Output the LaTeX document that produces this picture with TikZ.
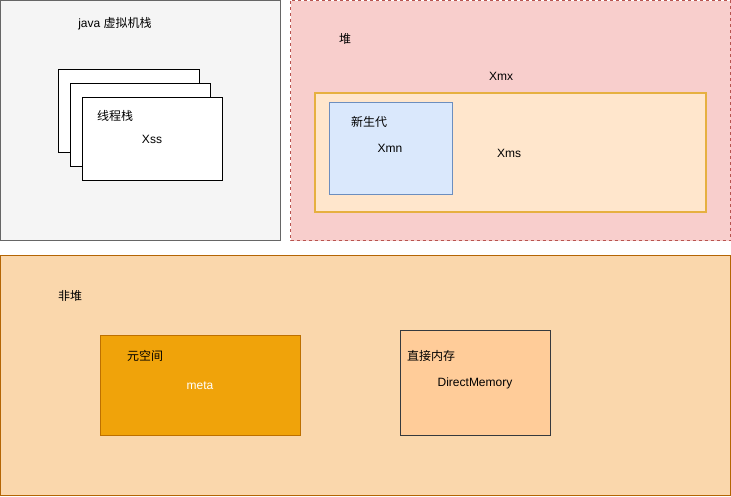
\documentclass[tikz,border=0pt]{standalone}
\usepackage{fontspec}
\setmainfont{Liberation Sans}
\newfontfamily\cjk{Noto Sans CJK SC}
\definecolor{jvmfill}{HTML}{F5F5F5}
\definecolor{jvmline}{HTML}{666666}
\definecolor{heapfill}{HTML}{F8CECC}
\definecolor{heapline}{HTML}{B85450}
\definecolor{xmsfill}{HTML}{FFE6CC}
\definecolor{xmsline}{HTML}{E6B040}
\definecolor{youngfill}{HTML}{DAE8FC}
\definecolor{youngline}{HTML}{6C8EBF}
\definecolor{nhfill}{HTML}{FAD7AC}
\definecolor{nhline}{HTML}{B46504}
\definecolor{metafill}{HTML}{F0A30A}
\definecolor{metaline}{HTML}{BD7000}
\definecolor{dmfill}{HTML}{FFCC99}
\definecolor{dmline}{HTML}{36393D}
\tikzset{
  box/.style={draw, line width=1pt},
  lbl/.style={font=\fontsize{12}{14}\selectfont, inner sep=0pt, anchor=center},
}
\begin{document}
\begin{tikzpicture}[x=1pt,y=-1pt]
\useasboundingbox (0,0) rectangle (731,496);
% JVM stack
\draw[box, fill=jvmfill, draw=jvmline] (0.5,0.5) rectangle (280.5,240.5);
\node[lbl] (jvm) at (115,24) {java {\cjk 虚拟机栈}};
\draw[box, fill=white, draw=black] (58.5,69.5) rectangle (199.5,152.5);
\draw[box, fill=white, draw=black] (70.5,83.5) rectangle (210.5,166.5);
\draw[box, fill=white, draw=black] (82.5,97.5) rectangle (222.5,180.5);
\node[lbl] (ts) at (115,116) {\cjk 线程栈};
\node[lbl] (xss) at (152,139) {Xss};
% Heap
\draw[box, fill=heapfill, draw=heapline, dashed, dash pattern=on 3pt off 3pt] (290.5,0.5) rectangle (730.5,240.5);
\node[lbl] (heap) at (345,39) {\cjk 堆};
\node[lbl] (xmx) at (501,76) {Xmx};
\draw[box, line width=2pt, fill=xmsfill, draw=xmsline] (315,93) rectangle (706,212);
\node[lbl] (xms) at (509,153) {Xms};
\draw[box, fill=youngfill, draw=youngline] (329.5,102.5) rectangle (452,194);
\node[lbl] (young) at (369,122) {\cjk 新生代};
\node[lbl] (xmn) at (390,148) {Xmn};
% Non-heap
\draw[box, fill=nhfill, draw=nhline] (0.5,255.5) rectangle (730.5,495.5);
\node[lbl] (nh) at (70,296) {\cjk 非堆};
\draw[box, fill=metafill, draw=metaline] (100.5,335.5) rectangle (300.5,435.5);
\node[lbl] (meta1) at (145,356) {\cjk 元空间};
\node[lbl, text=white] (meta) at (200,386) {meta};
\draw[box, fill=dmfill, draw=dmline] (400.5,330.5) rectangle (550.5,435.5);
\node[lbl] (dm1) at (431,356) {\cjk 直接内存};
\node[lbl] (dm) at (475,383) {DirectMemory};
\end{tikzpicture}
\end{document}
